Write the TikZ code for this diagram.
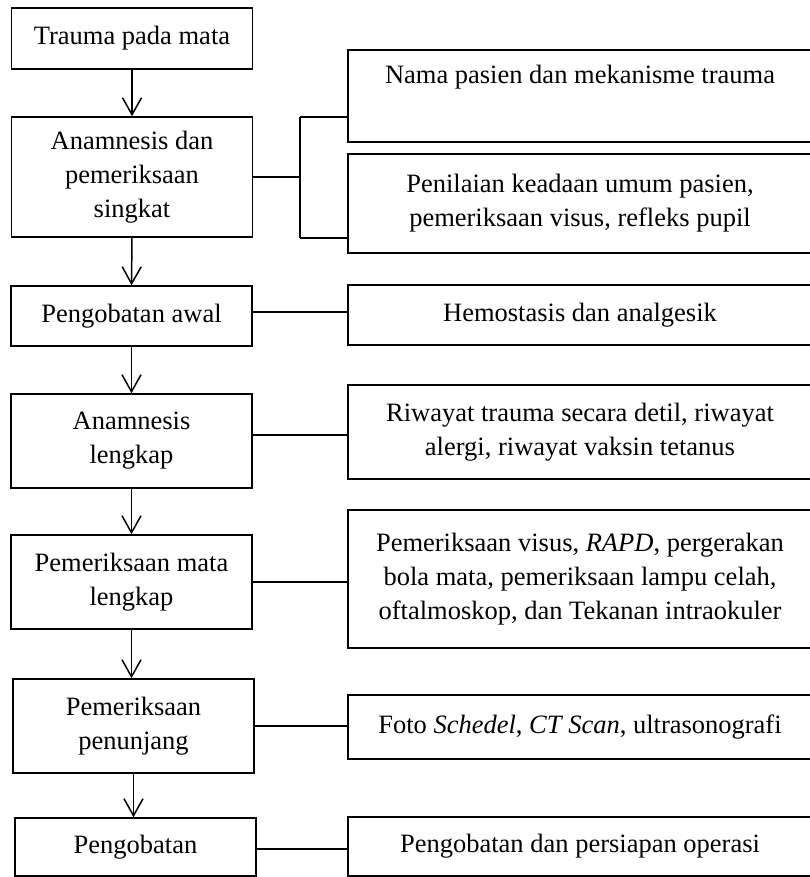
\documentclass[tikz,border=0pt]{standalone}
\usepackage{fontspec}
\setmainfont{Liberation Serif}
\usetikzlibrary{arrows.meta}
\begin{document}
\begin{tikzpicture}[x=1pt,y=-1pt,
  box/.style={draw=black,line width=1.5pt,inner sep=0pt,align=center,
    font=\fontsize{26.5}{34}\selectfont},
  lbox/.style={box,minimum width=241pt},
  rbox/.style={box,minimum width=464pt},
  link/.style={line width=1.5pt},
  flow/.style={line width=1.5pt,-{Straight Barb[length=17pt,width=19pt,line width=1.5pt]}}]
\useasboundingbox (0,0) rectangle (809,877);
% left column
\node[lbox,minimum height=61pt] (L1) at (132,38.5) {Trauma pada mata};
\node[lbox,minimum height=120pt] (L2) at (132,177) {Anamnesis dan\\pemeriksaan\\singkat};
\node[lbox,minimum height=60pt] (L3) at (131.5,316) {Pengobatan awal};
\node[lbox,minimum height=94pt] (L4) at (131.5,441) {Anamnesis\\lengkap};
\node[lbox,minimum height=94pt] (L5) at (131.5,582) {Pemeriksaan mata\\lengkap};
\node[lbox,minimum height=94pt] (L6) at (133.5,726) {Pemeriksaan\\penunjang};
\node[lbox,minimum height=58pt] (L7) at (135.5,847) {Pengobatan};
% right column
\node[rbox,minimum height=92pt] (R1) at (580,96) {Nama pasien dan mekanisme trauma\\ \strut};
\node[rbox,minimum height=99pt] (R2) at (580,203.5) {Penilaian keadaan umum pasien,\\pemeriksaan visus, refleks pupil};
\node[rbox,minimum height=60pt] (R3) at (580,315) {Hemostasis dan analgesik};
\node[rbox,minimum height=94pt] (R4) at (580,432) {Riwayat trauma secara detil, riwayat\\alergi, riwayat vaksin tetanus};
\node[rbox,minimum height=138pt] (R5) at (580,579) {Pemeriksaan visus, \textit{RAPD}, pergerakan\\bola mata, pemeriksaan lampu celah,\\oftalmoskop, dan Tekanan intraokuler};
\node[rbox,minimum height=64pt] (R6) at (580,727) {Foto \textit{Schedel}, \textit{CT Scan}, ultrasonografi};
\node[rbox,minimum height=59pt] (R7) at (580,846.5) {Pengobatan dan persiapan operasi};
% vertical arrows
\draw[flow] (L1.south) -- (L2.north);
\draw[flow] (L2.south) -- (L3.north);
\draw[flow] (L3.south) -- (L4.north);
\draw[flow] (L4.south) -- (L5.north);
\draw[flow] (L5.south) -- (L5.south |- L6.north);
\draw[flow] (L6.south) -- (L6.south |- L7.north);
% bracket to first two right boxes
\coordinate (bj) at (300,177);
\coordinate (bt) at (300,117);
\coordinate (bb) at (300,238);
\draw[link] (L2.east) -- (bj);
\draw[link] (bt) -- (bb);
\draw[link] (bt) -- (bt -| R1.west);
\draw[link] (bb) -- (bb -| R2.west);
% horizontal links
\draw[link] ([yshift=4pt]L3.east) -- ([yshift=4pt]L3.east -| R3.west);
\draw[link] ([yshift=6pt]L4.east) -- ([yshift=6pt]L4.east -| R4.west);
\draw[link] (L5.east) -- (L5.east -| R5.west);
\draw[link] (L6.east) -- (L6.east -| R6.west);
\draw[link] ([yshift=-2pt]L7.east) -- ([yshift=-2pt]L7.east -| R7.west);
\end{tikzpicture}
\end{document}
